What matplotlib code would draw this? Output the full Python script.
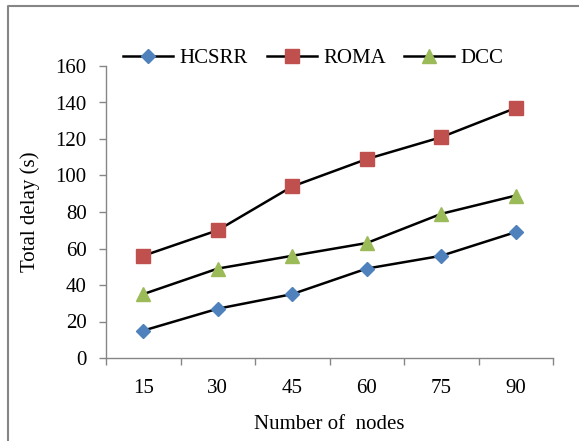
import matplotlib
matplotlib.use("Agg")
import matplotlib.pyplot as plt
from matplotlib.lines import Line2D

nodes = ["15", "30", "45", "60", "75", "90"]
hcsrr = [15, 27, 35, 49, 56, 69]
roma = [56, 70, 94, 109, 121, 137]
dcc = [35, 49, 56, 63, 79, 89]

plt.rcParams['font.family'] = ['Liberation Serif', 'DejaVu Serif']
plt.rcParams['font.size'] = 15

gray = '#868686'

fig = plt.figure(figsize=(5.79, 4.41), dpi=100)
ax = fig.add_axes([106 / 579, 1 - 358 / 441, 447 / 579, 292 / 441])

x = list(range(len(nodes)))
ax.plot(x, hcsrr, color='black', lw=1.8, marker='D', ms=7, mfc='#4F81BD', mec='#4F81BD', label='HCSRR')
ax.plot(x, roma, color='black', lw=1.8, marker='s', ms=10, mfc='#C0504D', mec='#C0504D', label='ROMA')
ax.plot(x, dcc, color='black', lw=1.8, marker='^', ms=10.5, mfc='#9BBB59', mec='#9BBB59', label='DCC')

ax.set_xlim(-0.5, len(nodes) - 0.5)
ax.set_ylim(0, 160)
ax.set_yticks(range(0, 161, 20))

# category labels at the centres, tick marks on the boundaries
ax.set_xticks(x)
ax.set_xticklabels(nodes)
ax.set_xticks([i - 0.5 for i in range(len(nodes) + 1)], minor=True)
ax.tick_params(axis='x', which='major', length=0, pad=15)
ax.tick_params(axis='x', which='minor', length=5, width=1, color=gray, direction='out')
ax.tick_params(axis='y', length=5, width=1, color=gray, direction='out', pad=9)

for s in ['top', 'right']:
    ax.spines[s].set_visible(False)
for s in ['left', 'bottom']:
    ax.spines[s].set_color(gray)
    ax.spines[s].set_linewidth(1)

fig.text(30 / 579, 1 - 212 / 441, 'Total delay (s)', rotation=90, ha='center', va='center')
fig.text(329.5 / 579, 0.038, 'Number of  nodes', ha='center', va='center')

fig.legend(loc='center', bbox_to_anchor=(313.5 / 579, 1 - 58 / 441), ncol=3, frameon=False,
           handlelength=2.4, handletextpad=0.3, columnspacing=0.9, borderaxespad=0)

# outer frame, only top and left edges are visible in the image
fig.add_artist(Line2D([8 / 579, 8 / 579, 1], [0, 1 - 6 / 441, 1 - 6 / 441],
                      transform=fig.transFigure, color=gray, lw=1.5))

fig.savefig('out.png', dpi=100)
